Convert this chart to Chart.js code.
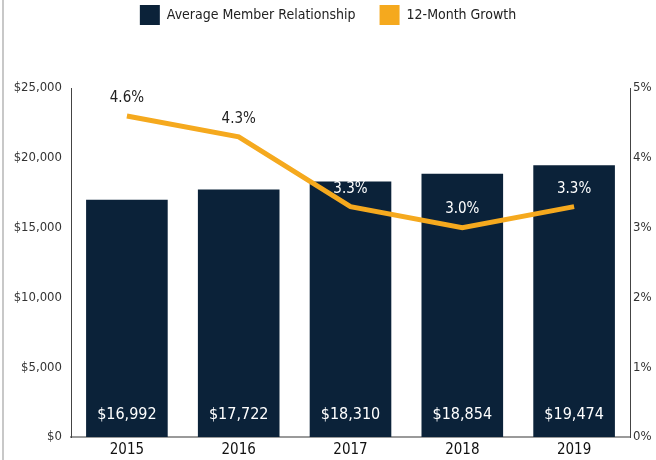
<!DOCTYPE html>
<html>
<head>
<meta charset="utf-8">
<script src="https://cdn.jsdelivr.net/npm/chart.js@4"></script>
<style>
  html, body { margin: 0; padding: 0; background: #fff; }
  #wrap { position: relative; width: 656px; height: 460px; }
  #edge { position: absolute; left: 2px; top: 0; width: 2px; height: 460px; background: #c8c8c8; }
</style>
</head>
<body>
<div id="wrap">
  <div id="edge"></div>
  <canvas id="chart" width="656" height="460"></canvas>
</div>
<script>
  var years = ['2015', '2016', '2017', '2018', '2019'];
  var memberRelationship = [16992, 17722, 18310, 18854, 19474];
  var growth = [4.6, 4.3, 3.3, 3.0, 3.3];
  var dollarTicks = [0, 5000, 10000, 15000, 20000, 25000];
  var pctTicks = [0, 1, 2, 3, 4, 5];

  var FONT = "'Liberation Sans Narrow', 'DejaVu Sans Condensed', 'Roboto', sans-serif";
  var NAVY = '#0b2239';
  var GOLD = '#f5a91e';

  function money(v) {
    return '$' + v.toLocaleString('en-US');
  }

  // push the plot area down below the legend
  var legendGap = {
    id: 'legendGap',
    beforeInit: function (chart) {
      var fit = chart.legend.fit;
      chart.legend.fit = function () {
        fit.call(this);
        this.height += 53;
      };
    }
  };

  // value labels: dollars inside bar bottoms, percentages above line points
  var valueLabels = {
    id: 'valueLabels',
    afterDatasetsDraw: function (chart) {
      var ctx = chart.ctx;
      var bars = chart.getDatasetMeta(0).data;
      var pts = chart.getDatasetMeta(1).data;
      ctx.save();
      ctx.textAlign = 'center';
      ctx.textBaseline = 'middle';
      ctx.font = '16px ' + FONT;
      bars.forEach(function (b, i) {
        ctx.fillStyle = '#ffffff';
        ctx.fillText(money(memberRelationship[i]), b.x, chart.chartArea.bottom - 22);
      });
      ctx.font = '15px ' + FONT;
      pts.forEach(function (p, i) {
        var ly = p.y - 18;
        ctx.fillStyle = ly > bars[i].y ? '#ffffff' : '#222222';
        ctx.fillText(growth[i].toFixed(1) + '%', p.x, ly);
      });
      ctx.restore();
    }
  };

  new Chart(document.getElementById('chart').getContext('2d'), {
    type: 'bar',
    data: {
      labels: years,
      datasets: [{
        type: 'bar',
        label: 'Average Member Relationship',
        data: memberRelationship,
        backgroundColor: NAVY,
        borderWidth: 0,
        barPercentage: 0.73,
        categoryPercentage: 1,
        yAxisID: 'y',
        order: 2
      }, {
        type: 'line',
        label: '12-Month Growth',
        data: growth,
        borderColor: GOLD,
        backgroundColor: GOLD,
        borderWidth: 5,
        pointRadius: 0,
        tension: 0,
        yAxisID: 'y1',
        order: 1
      }]
    },
    options: {
      responsive: false,
      animation: false,
      layout: { padding: { top: -19, left: 0, right: 0, bottom: 0 } },
      plugins: {
        legend: {
          display: true,
          labels: {
            font: { family: FONT, size: 14 },
            color: '#222',
            boxWidth: 20,
            boxHeight: 20,
            padding: 24,
            generateLabels: function (chart) {
              return chart.data.datasets.map(function (ds, i) {
                return {
                  text: ds.label,
                  fillStyle: i === 0 ? NAVY : GOLD,
                  strokeStyle: i === 0 ? NAVY : GOLD,
                  lineWidth: 0,
                  datasetIndex: i,
                  fontColor: '#222'
                };
              });
            }
          }
        },
        tooltip: { enabled: false }
      },
      scales: {
        x: {
          grid: { display: false, drawTicks: false },
          border: { display: true, color: '#9a9a9a', width: 2 },
          ticks: { font: { family: FONT, size: 15 }, color: '#111', padding: 4 },
          afterFit: function (s) { s.height = 23; }
        },
        y: {
          position: 'left',
          min: 0,
          max: 25000,
          grid: { display: false, drawTicks: false },
          border: { display: true, color: '#444', width: 1 },
          afterBuildTicks: function (s) { s.ticks = dollarTicks.map(function (v) { return { value: v }; }); },
          ticks: {
            font: { family: FONT, size: 13 },
            color: '#333',
            padding: 9,
            callback: function (v) { return money(v); }
          },
          afterFit: function (s) { s.width = 71; }
        },
        y1: {
          position: 'right',
          min: 0,
          max: 5,
          grid: { display: false, drawTicks: false },
          border: { display: true, color: '#444', width: 1 },
          afterBuildTicks: function (s) { s.ticks = pctTicks.map(function (v) { return { value: v }; }); },
          ticks: {
            font: { family: FONT, size: 13 },
            color: '#333',
            padding: 3,
            callback: function (v) { return v + '%'; }
          },
          afterFit: function (s) { s.width = 26; }
        }
      }
    },
    plugins: [legendGap, valueLabels]
  });
</script>
</body>
</html>
